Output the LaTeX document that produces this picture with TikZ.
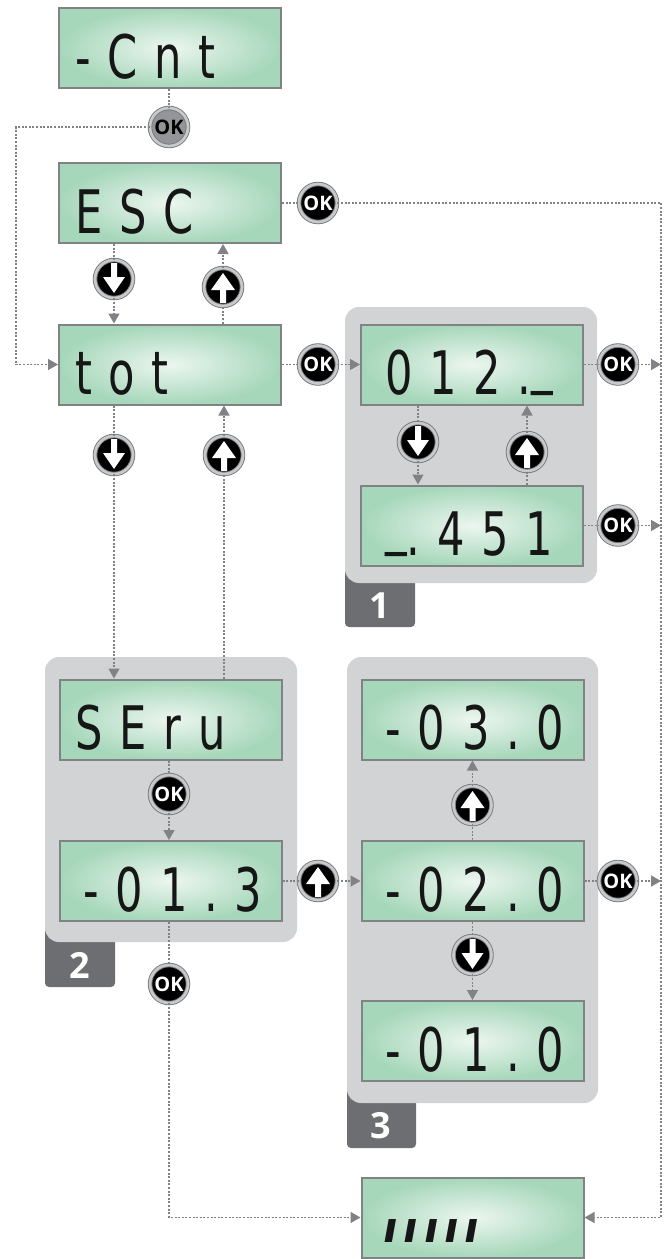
\documentclass[tikz,border=0pt]{standalone}
\usepackage{fontspec}
\setmainfont{Open Sans}
\newfontfamily\segfont[FakeStretch=0.72,LetterSpace=28]{DejaVu Sans}
\newfontfamily\barfont[FakeSlant=0.18,LetterSpace=14]{DejaVu Sans}
\usetikzlibrary{arrows.meta}
\definecolor{lcdin}{RGB}{236,246,239}
\definecolor{lcdout}{RGB}{166,215,186}
\definecolor{lcdedge}{RGB}{128,130,133}
\definecolor{segink}{RGB}{22,22,22}
\definecolor{panelgray}{RGB}{209,211,212}
\definecolor{tabgray}{RGB}{109,110,113}
\definecolor{linkgray}{RGB}{128,130,133}
\definecolor{btnedge}{RGB}{120,121,124}
\definecolor{btnring}{RGB}{200,201,203}
\definecolor{okfill}{RGB}{147,149,152}
\begin{document}
\begin{tikzpicture}[x=1pt,y=-1pt,
			lcd/.style={draw=lcdedge, line width=2pt, shading=radial, inner color=lcdin, outer color=lcdout,
				minimum width=222pt, minimum height=80pt, inner sep=0pt, align=left, text width=190pt,
				text height=60pt, text depth=0pt, text=segink, font=\segfont\fontsize{60}{60}\selectfont},
			wide/.style={text width=174pt},
			btn/.style={circle, minimum size=38pt, inner sep=0pt, fill=black, draw=btnedge,
				double=btnring, double distance=2.7pt, line width=0.9pt},
			okbtn/.style={btn, text=white, font=\bfseries\fontsize{20}{20}\selectfont},
			okgray/.style={okbtn, fill=okfill, text=black},
			upbtn/.style={btn, path picture={\fill[white, shift={(path picture bounding box.center)}]
				(-3,16) -- (-3,3) -- (-12,3) -- (0,-14) -- (12,3) -- (3,3) -- (3,16) -- cycle;}},
			downbtn/.style={btn, path picture={\fill[white, shift={(path picture bounding box.center)}]
				(-3,-16) -- (-3,-2) -- (-11,-2) -- (0,14) -- (11,-2) -- (3,-2) -- (3,-16) -- cycle;}},
			link/.style={draw=linkgray, line width=1.5pt, dash pattern=on 2pt off 1.6pt},
			tip/.style={link, -{Triangle[length=10pt,width=11pt]}},
			panel/.style={fill=panelgray, rounded corners=14pt},
			tab/.style={fill=tabgray, rounded corners=4pt},
			tabnum/.style={text=white, font=\bfseries\fontsize{36}{36}\selectfont, inner sep=0pt}]
			
			\useasboundingbox (0,0) rectangle (669,1259);
			
			\fill[tab] (345,560) rectangle (415,627);
			\fill[panel] (345,307) rectangle (597,583);
			\fill[tab] (45,920) rectangle (115,987);
			\fill[panel] (45,657) rectangle (297,942);
			\fill[tab] (347,1080) rectangle (416,1148);
			\fill[panel] (347,657) rectangle (598,1103);
			\node[tabnum] (n1) at (380,606) {1};
			\node[tabnum] (n2) at (80,965) {2};
			\node[tabnum] (n3) at (381,1126) {3};
			
			\node[lcd] (cnt) at (170,48) {-Cnt};
			\node[lcd] (esc) at (170,203) {ESC};
			\node[lcd] (tot) at (170,364.5) {tot};
			\node[lcd] (seru) at (170.5,719.5) {SEru};
			\node[lcd, wide] (m013) at (170.5,881) {-01.3};
			\node[lcd, wide] (d012) at (472,364.5) {012.\raisebox{13pt}{\_}};
			\node[lcd, wide] (d451) at (472,525.5) {\raisebox{13pt}{\_}.451};
			\node[lcd, wide] (m030) at (472.5,719.5) {-03.0};
			\node[lcd, wide] (m020) at (472.5,881) {-02.0};
			\node[lcd, wide] (m010) at (472.5,1041) {-01.0};
			\node[lcd, text width=182pt, text height=49pt, font=\barfont\bfseries\fontsize{42}{42}\selectfont]
				(bars) at (472.5,1217.5) {ııııı};
			
			\node[okgray] (okcnt) at (169,127) {OK};
			\node[okbtn] (okesc) at (318,203) {OK};
			\node[downbtn] (dnesc) at (114,279) {};
			\node[upbtn] (upesc) at (223,287) {};
			\node[okbtn] (oktot) at (318,364.5) {OK};
			\node[downbtn] (dntot) at (114,455) {};
			\node[upbtn] (uptot) at (224,455) {};
			\node[downbtn] (dn1) at (418,442) {};
			\node[upbtn] (up1) at (527,452) {};
			\node[okbtn] (ok1a) at (618,364.5) {OK};
			\node[okbtn] (ok1b) at (618,525.5) {OK};
			\node[okbtn] (ok2) at (169,794) {OK};
			\node[upbtn] (up2) at (318,881) {};
			\node[okbtn] (ok2b) at (169,984) {OK};
			\node[upbtn] (up3) at (472.5,805) {};
			\node[downbtn] (dn3) at (472.5,955) {};
			\node[okbtn] (ok3) at (618,881) {OK};
			\coordinate (leftrail) at (16,127);
			\coordinate (rail) at (661,203);
			
			\draw[link] (cnt.south -| okcnt) -- (okcnt);
			\draw[tip] (okcnt) -- (okcnt -| leftrail) -- (leftrail |- tot) -- (tot);
			\draw[tip] (esc.south -| dnesc) -- (dnesc) -- (dnesc |- tot.north);
			\draw[tip] (tot.north -| upesc) -- (upesc) -- (upesc |- esc.south);
			\draw[tip] (tot.south -| dntot) -- (dntot) -- (dntot |- seru.north);
			\draw[tip] (seru.north -| uptot) -- (uptot) -- (uptot |- tot.south);
			\draw[tip] (tot) -- (oktot) -- (d012);
			\draw[tip] (d012.south -| dn1) -- (dn1) -- (dn1 |- d451.north);
			\draw[tip] (d451.north -| up1) -- (up1) -- (up1 |- d012.south);
			\draw[tip] (d012) -- (ok1a) -- (ok1a -| rail);
			\draw[tip] (d451) -- (ok1b) -- (ok1b -| rail);
			\draw[tip] (seru.south -| ok2) -- (ok2) -- (ok2 |- m013.north);
			\draw[tip] (m013) -- (up2) -- (m020);
			\draw[tip] (m020.north -| up3) -- (up3) -- (up3 |- m030.south);
			\draw[tip] (m020.south -| dn3) -- (dn3) -- (dn3 |- m010.north);
			\draw[tip] (m020) -- (ok3) -- (ok3 -| rail);
			\draw[tip] (m013.south -| ok2b) -- (ok2b) -- (ok2b |- bars) -- (bars);
			\draw[tip] (esc) -- (okesc) -- (okesc -| rail) -- (rail |- bars) -- (bars);
\end{tikzpicture}
\end{document}
